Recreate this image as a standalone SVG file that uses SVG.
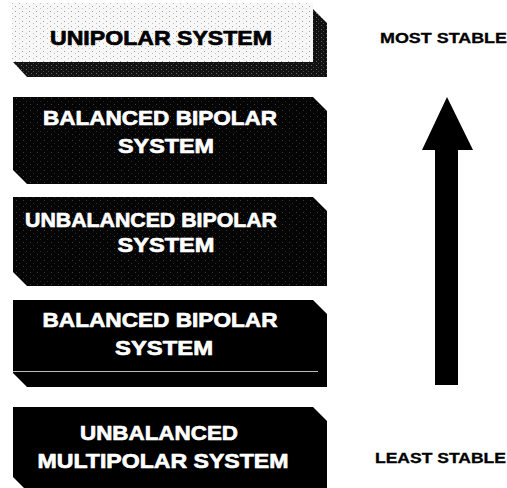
<svg xmlns="http://www.w3.org/2000/svg" width="507" height="488" viewBox="0 0 507 488">
<defs>
<pattern id="lightStip" width="7" height="5" patternUnits="userSpaceOnUse">
<rect width="7" height="5" fill="#f7f7f7"/>
<rect x="1" y="1" width="1" height="1" fill="#a0a0a0"/>
<rect x="5" y="3" width="1" height="1" fill="#c0c0c0"/>
</pattern>
<pattern id="darkStip" width="5" height="4" patternUnits="userSpaceOnUse">
<rect width="5" height="4" fill="#111"/>
<rect x="1" y="1" width="1" height="1" fill="#666"/>
<rect x="3" y="3" width="1" height="1" fill="#444"/>
</pattern>
<pattern id="blackStip" width="7" height="6" patternUnits="userSpaceOnUse">
<rect width="7" height="6" fill="#050505"/>
<rect x="2" y="2" width="1" height="1" fill="#3a3a3a"/>
<rect x="5" y="5" width="1" height="1" fill="#2a2a2a"/>
</pattern>
</defs>
<style>
.t{font-family:"Liberation Sans",Arial,sans-serif;font-weight:bold;text-anchor:middle;stroke-width:0.7;stroke-linejoin:round}
.bt{font-size:21px;fill:#fff;stroke:#fff}
.side{font-family:"Liberation Sans",Arial,sans-serif;font-weight:bold;font-size:14px;fill:#000;stroke:#000;stroke-width:0.3}
</style>
<g id="box-unipolar">
<polygon points="313,9 327,23 327,77 27,77 13,62 313,62" fill="url(#darkStip)"/>
<rect x="12" y="3" width="301" height="59" fill="url(#lightStip)"/>
<text class="t" x="161" y="45" font-size="21" fill="#000" stroke="#000" textLength="222" lengthAdjust="spacingAndGlyphs">UNIPOLAR SYSTEM</text>
</g>
<g id="box-balanced-bipolar-1">
<polygon points="13,97 313,97 327,111 327,184 27,184 13,170" fill="url(#blackStip)"/>
<text class="t bt" x="160" y="125" textLength="234" lengthAdjust="spacingAndGlyphs">BALANCED BIPOLAR</text>
<text class="t bt" x="166" y="153" textLength="96" lengthAdjust="spacingAndGlyphs">SYSTEM</text>
</g>
<g id="box-unbalanced-bipolar">
<polygon points="13,197 313,197 327,211 327,286 27,286 13,272" fill="url(#blackStip)"/>
<text class="t bt" x="151" y="227" textLength="252" lengthAdjust="spacingAndGlyphs">UNBALANCED BIPOLAR</text>
<text class="t bt" x="166" y="252" textLength="97" lengthAdjust="spacingAndGlyphs">SYSTEM</text>
</g>
<g id="box-balanced-bipolar-2">
<polygon points="13,300 313,300 327,314 327,387 27,387 13,373" fill="#000"/>
<line x1="13" y1="371.5" x2="318" y2="371.5" stroke="#bbb" stroke-width="1"/>
<text class="t bt" x="160" y="327" textLength="235" lengthAdjust="spacingAndGlyphs">BALANCED BIPOLAR</text>
<text class="t bt" x="164" y="355" textLength="98" lengthAdjust="spacingAndGlyphs">SYSTEM</text>
</g>
<g id="box-unbalanced-multipolar">
<polygon points="13,407 313,407 327,421 327,488 24,488 13,477" fill="#000"/>
<text class="t bt" x="159" y="440" textLength="158" lengthAdjust="spacingAndGlyphs">UNBALANCED</text>
<text class="t bt" x="163" y="468" textLength="251" lengthAdjust="spacingAndGlyphs">MULTIPOLAR SYSTEM</text>
</g>
<g id="connectors">
<polygon points="447,97 473,150 458,150 458,385 435,385 435,150 422,150" fill="#000"/>
</g>
<g id="labels">
<text class="side" x="380" y="43" textLength="127" lengthAdjust="spacingAndGlyphs">MOST STABLE</text>
<text class="side" x="375" y="463" textLength="131" lengthAdjust="spacingAndGlyphs">LEAST STABLE</text>
</g>
</svg>
